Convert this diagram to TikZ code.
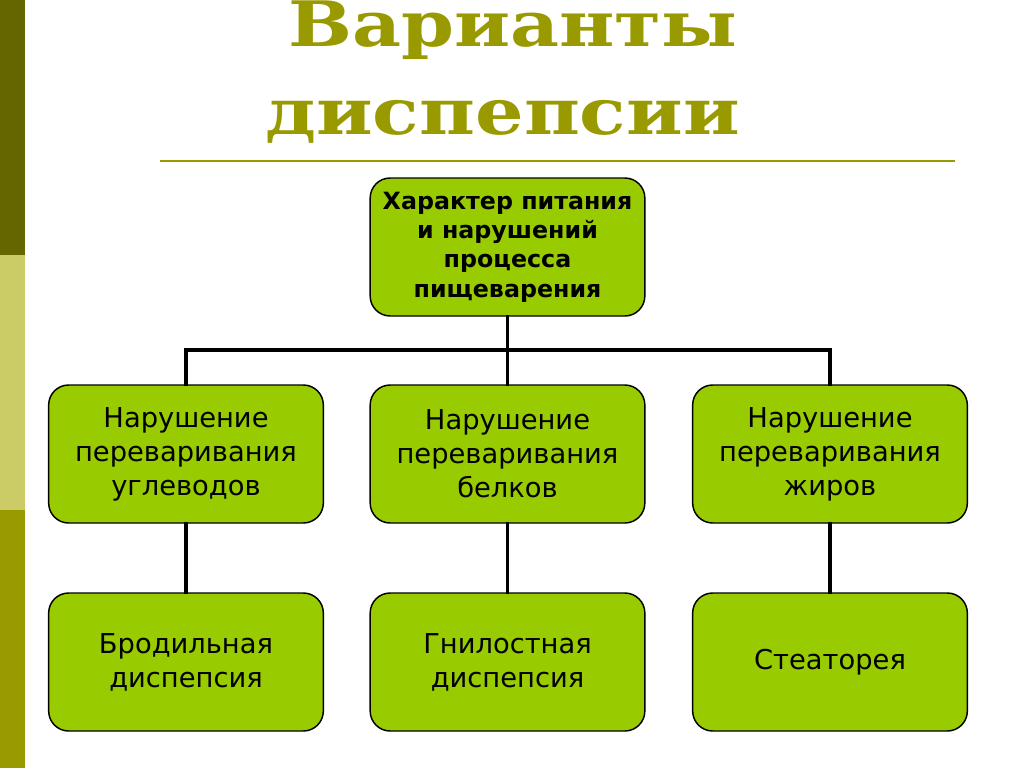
\documentclass[tikz,border=0pt]{standalone}
\usepackage{fontspec}
\setmainfont{DejaVu Sans}
\newfontfamily\titlefont{DejaVu Serif}
\definecolor{olive}{HTML}{999900}
\definecolor{darkolive}{HTML}{666600}
\definecolor{lightolive}{HTML}{CCCC66}
\definecolor{boxgreen}{HTML}{99CC00}
\tikzset{
  box/.style={draw=black, line width=1.1pt, fill=boxgreen, rounded corners=15pt,
    minimum width=206pt, minimum height=103.5pt, inner sep=0pt, align=center,
    font=\fontsize{20.5}{25.5}\selectfont},
  topbox/.style={box, font=\bfseries\fontsize{17.8}{22}\selectfont},
  link/.style={line width=2.5pt, line cap=rect}
}
\begin{document}
\begin{tikzpicture}[x=0.75pt,y=-0.75pt]
\useasboundingbox (0,0) rectangle (1024,768);
\fill[white] (0,0) rectangle (1024,768);
% side bar
\fill[darkolive] (0,0) rectangle (25,255);
\fill[lightolive] (0,255) rectangle (25,510);
\fill[olive] (0,510) rectangle (25,768);
% title
\node[anchor=base, text=olive, inner sep=0pt] (t1) at (513,46.5)
  {\resizebox{337pt}{\height}{\titlefont\bfseries\fontsize{47}{50}\selectfont Варианты}};
\node[anchor=base, text=olive, inner sep=0pt] (t2) at (502.5,134)
  {\resizebox{356pt}{\height}{\titlefont\bfseries\fontsize{48}{50}\selectfont диспепсии}};
\draw[olive, line width=2.2pt] (160,161) coordinate (l1) -- (955,161) coordinate (l2);
% boxes
\node[topbox] (top) at (507.5,247) {Характер питания\\и нарушений\\процесса\\пищеварения};
\node[box] (m1) at (186,454) {Нарушение\\переваривания\\углеводов};
\node[box] (m2) at (507.5,454) {Нарушение\\переваривания\\белков};
\node[box] (m3) at (830,454) {Нарушение\\переваривания\\жиров};
\node[box] (b1) at (186,662) {Бродильная\\диспепсия};
\node[box] (b2) at (507.5,662) {Гнилостная\\диспепсия};
\node[box] (b3) at (830,662) {Стеаторея};
% connectors
\coordinate (j) at (507.5,350);
\draw[link] (top.south) -- (j);
\draw[link] (m1.north) |- (m3.north |- j) -- (m3.north);
\draw[link] (j) -- (m2.north);
\draw[link] (m1.south) -- (b1.north);
\draw[link] (m2.south) -- (b2.north);
\draw[link] (m3.south) -- (b3.north);
\end{tikzpicture}
\end{document}
